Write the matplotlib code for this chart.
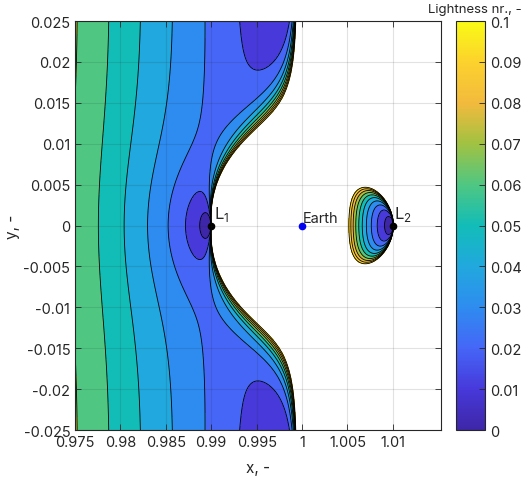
import numpy as np
import matplotlib
matplotlib.use("Agg")
import matplotlib.pyplot as plt
from matplotlib.colors import LinearSegmentedColormap, Normalize
from matplotlib.cm import ScalarMappable

plt.rcParams['font.family'] = ['Inter', 'DejaVu Sans']
plt.rcParams['mathtext.fontset'] = 'custom'
plt.rcParams['mathtext.rm'] = 'Inter'

# Sun-Earth CR3BP
mu = 3.0404e-6
x_earth = 1 - mu
x_L1 = 0.989986
x_L2 = 1.010034

# plot window and lightness levels
x_range = [0.975, 1.0153]
y_range = [-0.025, 0.025]
levels = [0.0, 0.01, 0.02, 0.03, 0.04, 0.05, 0.06, 0.07, 0.08, 0.09, 0.1]
level_labels = ['0', '0.01', '0.02', '0.03', '0.04', '0.05', '0.06',
                '0.07', '0.08', '0.09', '0.1']
x_ticks = [0.975, 0.98, 0.985, 0.99, 0.995, 1.0, 1.005, 1.01]
x_tick_labels = ['0.975', '0.98', '0.985', '0.99', '0.995', '1', '1.005', '1.01']
y_ticks = [-0.025, -0.02, -0.015, -0.01, -0.005, 0, 0.005, 0.01, 0.015, 0.02, 0.025]
y_tick_labels = ['-0.025', '-0.02', '-0.015', '-0.01', '-0.005', '0',
                 '0.005', '0.01', '0.015', '0.02', '0.025']

# parula-like colormap
parula_nodes = [
    (0.243, 0.150, 0.660),
    (0.278, 0.225, 0.860),
    (0.270, 0.400, 0.970),
    (0.180, 0.550, 0.940),
    (0.130, 0.660, 0.870),
    (0.070, 0.740, 0.720),
    (0.310, 0.780, 0.510),
    (0.630, 0.760, 0.260),
    (0.950, 0.730, 0.240),
    (0.990, 0.820, 0.180),
    (0.977, 0.984, 0.081),
]
parula = LinearSegmentedColormap.from_list('parula', parula_nodes, N=256)


def lightness(x, y):
    r1v = np.stack([x + mu, y])
    r2v = np.stack([x - 1 + mu, y])
    r1 = np.hypot(*r1v)
    r2 = np.hypot(*r2v)
    # gradient of effective potential
    gx = -x + (1 - mu) * r1v[0] / r1**3 + mu * r2v[0] / r2**3
    gy = -y + (1 - mu) * r1v[1] / r1**3 + mu * r2v[1] / r2**3
    g = np.hypot(gx, gy)
    proj = (gx * r1v[0] + gy * r1v[1]) / r1
    with np.errstate(divide='ignore', invalid='ignore'):
        beta = r1**2 / (1 - mu) * g**3 / proj**2
    # sail can't thrust towards the Sun
    beta[proj <= 0] = np.nan
    return beta


xs = np.linspace(x_range[0], x_range[1], 1400)
ys = np.linspace(y_range[0], y_range[1], 1400)
X, Y = np.meshgrid(xs, ys)
B = lightness(X, Y)

fig = plt.figure(figsize=(5.23, 4.85), dpi=100)
ax = fig.add_axes([0.1434, 0.1113, 0.6998, 0.8433])

norm = Normalize(0, 0.1)
band_colors = [parula(norm(l)) for l in levels[:-1]]
ax.contourf(X, Y, B, levels=levels, colors=band_colors)
ax.contour(X, Y, B, levels=levels, colors='k', linewidths=0.6)

ax.plot(x_L1, 0, 'o', color='k', ms=4.5)
ax.plot(x_L2, 0, 'o', color='k', ms=4.5)
ax.plot(x_earth, 0, 'o', color='b', ms=4.5)
txt_col = '#262626'
ax.text(x_L1 + 0.0003, 0.0009, r'L$_\mathregular{1}$', fontsize=12, color=txt_col)
ax.text(x_L2 + 0.0001, 0.0009, r'L$_\mathregular{2}$', fontsize=12, color=txt_col)
ax.text(x_earth + 0.0001, 0.0004, 'Earth', fontsize=10.5, color=txt_col)

ax.set_xlim(x_range)
ax.set_ylim(y_range)
ax.set_xticks(x_ticks)
ax.set_xticklabels(x_tick_labels)
ax.set_yticks(y_ticks)
ax.set_yticklabels(y_tick_labels)
ax.tick_params(direction='in', top=True, right=True, length=4, labelsize=10.5,
               colors=txt_col, width=0.6)
for s in ax.spines.values():
    s.set_color(txt_col)
    s.set_linewidth(0.8)
ax.grid(True, color=(0.15, 0.15, 0.15), alpha=0.13, linewidth=0.8)
ax.set_axisbelow(False)
ax.set_xlabel('x, -', fontsize=11, color=txt_col, labelpad=8)
ax.set_ylabel('y, -', fontsize=11, color=txt_col, labelpad=2)

cax = fig.add_axes([0.8719, 0.1113, 0.0554, 0.8433])
cb = fig.colorbar(ScalarMappable(norm=norm, cmap=parula), cax=cax, ticks=levels)
cb.ax.set_yticklabels(level_labels)
cb.ax.tick_params(direction='in', length=4, labelsize=10.5, colors=txt_col, width=0.6)
cb.outline.set_edgecolor(txt_col)
cb.outline.set_linewidth(0.8)
cb.ax.text(-0.95, 1.015, 'Lightness nr., -', transform=cb.ax.transAxes,
           ha='left', va='bottom', fontsize=9.5, color=txt_col)

fig.savefig('out.png', dpi=100)
